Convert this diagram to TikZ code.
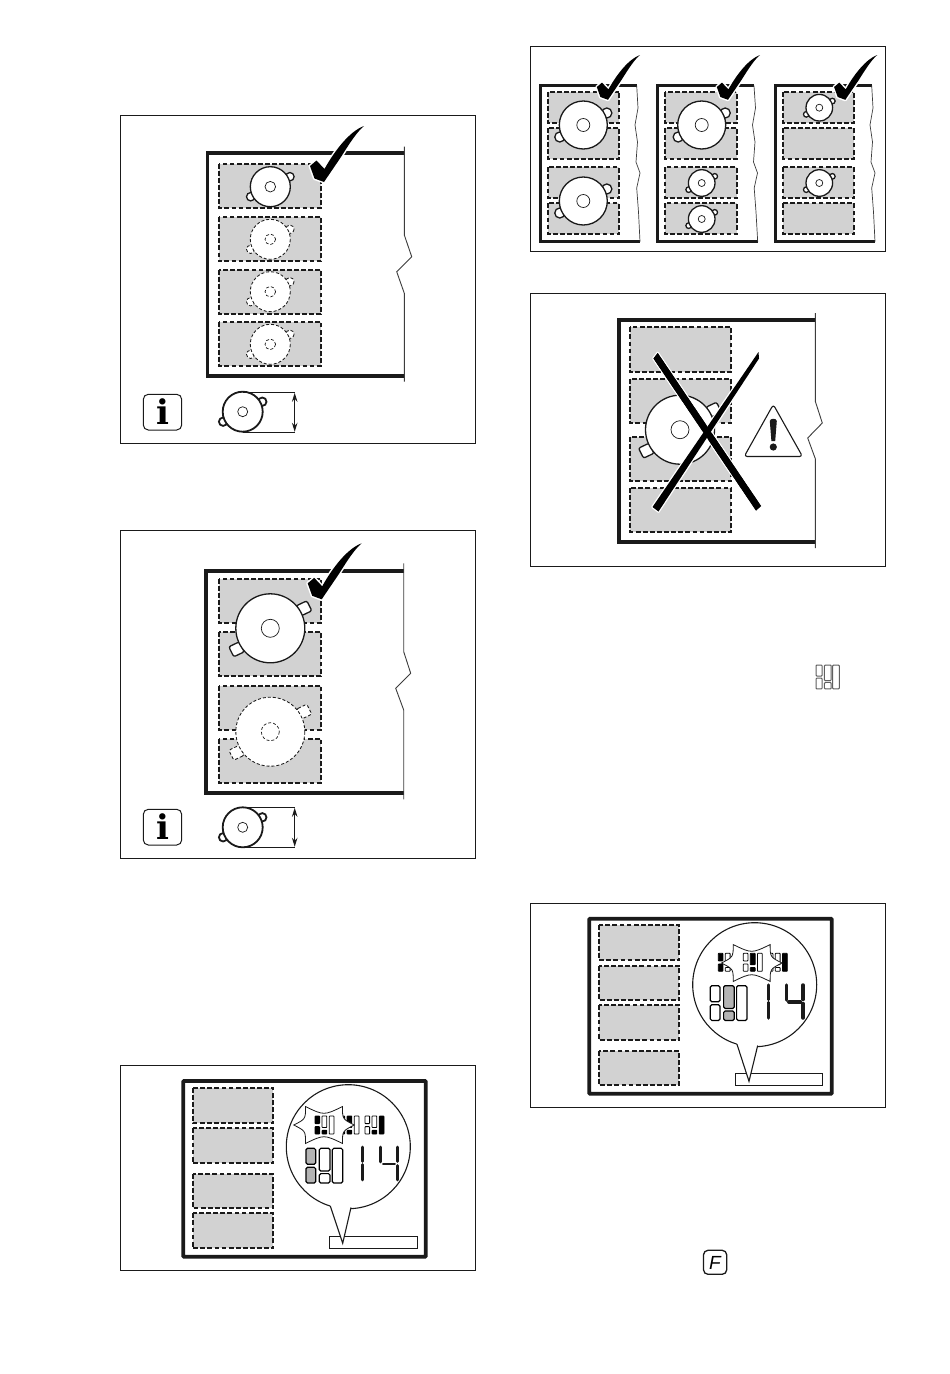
\documentclass[tikz,border=0pt]{standalone}
\usepackage{fontspec}
\usetikzlibrary{arrows.meta}
\newfontfamily\infofont{DejaVu Serif}
\newfontfamily\keyfont{Liberation Sans}
\definecolor{zonegray}{HTML}{D2D2D2}
\definecolor{lcdgray}{HTML}{B4B4B4}
\definecolor{ink}{HTML}{1A1A1A}
\tikzset{
  panelbox/.style={draw=ink,line width=1,fill=white},
  hob/.style={draw=ink,line width=3.8,miter limit=10},
  hobthin/.style={draw=ink,line width=3.4,miter limit=10},
  edgeline/.style={draw=ink!85,line width=0.9},
  zonebox/.style={draw=ink,fill=zonegray,line width=1.8,dash pattern=on 4.8pt off 2.3pt},
  pansolid/.style={draw=ink,fill=white,line width=1.3},
  panghost/.style={draw=ink,fill=white,line width=0.85,dash pattern=on 3pt off 2pt},
  halo/.style={draw=white,line width=3,line join=round},
  thinline/.style={draw=ink,line width=1.1},
  segline/.style={draw=ink,line cap=round},
}
\newcommand{\panel}[4]{\draw[panelbox] (#1,#2) rectangle (#3,#4);}
\newcommand{\zone}[4]{\path[zonebox] (#1,#2) rectangle (#3,#4);}
% pan with round handles: style, cx, cy, R, r
\newcommand{\pan}[5]{%
  \path[#1] ({#2+0.98*#4},{#3-0.5*#4}) circle[radius={0.21*#4}];
  \path[#1] ({#2-0.98*#4},{#3+0.5*#4}) circle[radius={0.21*#4}];
  \path[#1] (#2,#3) circle[radius=#4];
  \path[#1,line width=0.7] (#2,#3) circle[radius=#5];}
% big pan with square handles: style, cx, cy
\newcommand{\bigpan}[3]{%
  \begin{scope}[shift={(#2,#3)}]
  \path[#1,rounded corners=2pt] (26,-22.5) -- (36.5,-27.5) -- (41.5,-17.5) -- (31,-12.5) -- cycle;
  \path[#1,rounded corners=2pt] (-26,23.5) -- (-36.5,28.5) -- (-41.5,18.5) -- (-31,13.5) -- cycle;
  \path[#1] (0,0) circle[radius=34.5];
  \path[#1,line width=0.7] (0,0) circle[radius=9];
  \end{scope}}
\newcommand{\tickpath}{(-54,40) -- (-47.5,34.5) -- (-39.5,43) .. controls (-29,24) and (-14,5) .. (0,0)
     .. controls (-7,6) and (-13,15) .. (-23,31) -- (-40,56) -- (-49.5,52.5) -- cycle}
\newcommand{\tickat}[3]{%
  \begin{scope}[shift={(#1,#2)},scale=#3]
  \path[halo] \tickpath;
  \fill[black] \tickpath;
  \end{scope}}
% large lcd icon: opts, fills LT LB MT MB R
\newcommand{\lcd}[6][]{%
  \begin{scope}[rounded corners=1.5pt,line width=1.2,#1]
  \draw[fill=#2] (0,0) rectangle (9.7,16);
  \draw[fill=#3] (0,19) rectangle (9.7,34.7);
  \draw[fill=#4] (13.3,0) rectangle (24,22.7);
  \draw[fill=#5] (13.3,25.3) rectangle (24,34.7);
  \draw[fill=#6] (26.3,0) rectangle (36.7,34.7);
  \end{scope}}
% small lcd icon: x y, fills LT LB MT MB R
\newcommand{\lcdsmall}[7]{%
  \begin{scope}[shift={(#1,#2)},rounded corners=0.6pt,line width=0.8]
  \draw[fill=#3] (0,0) rectangle (4.6,7.6);
  \draw[fill=#4] (0,10.6) rectangle (4.6,18);
  \draw[fill=#5] (7,0) rectangle (11.8,11.5);
  \draw[fill=#6] (7,14.2) rectangle (11.8,18);
  \draw[fill=#7] (14.2,0) rectangle (19,18);
  \end{scope}}
% burst: cx cy
\newcommand{\burst}[2]{%
  \begin{scope}[shift={(#1,#2)}]
  \draw[fill=white,line width=0.8,draw=ink] (-18.4,-18.4) .. controls (0,-9.5) .. (18.4,-18.4)
   .. controls (18.5,-5.9) .. (30.3,0) .. controls (18.5,5.9) .. (18.4,18.4)
   .. controls (0,9.5) .. (-18.4,18.4) .. controls (-18.5,5.9) .. (-30.3,0)
   .. controls (-18.5,-5.9) .. (-18.4,-18.4) -- cycle;
  \end{scope}}
\newcommand{\fourteen}[3]{%
  \begin{scope}[shift={(#1,#2)}]
  \draw[segline,line width=#3] (0,1) -- (0,15.5);
  \draw[segline,line width=#3] (0,18.5) -- (0,34);
  \draw[segline,line width=#3] (18,1) -- (18,16);
  \draw[segline,line width=#3] (20.5,18) -- (32,18);
  \draw[segline,line width=#3] (34.7,1) -- (34.7,15.5);
  \draw[segline,line width=#3] (34.7,19.5) -- (34.7,34);
  \end{scope}}
% bubble: cx cy, A, tip, B, inner, rect corners
\newcommand{\bubble}[8]{%
  \draw[thinline] (#7) rectangle (#8);
  \draw[thinline,fill=white] (#1,#2) circle[radius=62];
  \fill[white] (#3) -- (#4) -- (#5) -- (#6) -- ++(-21,0) -- cycle;
  \draw[thinline] (#3) -- (#4) -- (#5);}
\begin{document}
\begin{tikzpicture}[x=1pt,y=-1pt]
\useasboundingbox (0,0) rectangle (950,1374);
\fill[white] (0,0) rectangle (950,1374);

% ---------- panel 1
\panel{120.5}{115}{475.5}{443.5}
\draw[hob] (404.3,153) -- (207.5,153) -- (207.5,375.7) -- (404.3,375.7);
\draw[edgeline] (404.3,146.7) -- (404.3,235) -- (411.7,256.7) -- (396.7,271.7) -- (404.3,293.3) -- (404.3,381.7);
\zone{218.7}{163.7}{321}{207.7}
\zone{218.7}{217}{321}{261}
\zone{218.7}{269.7}{321}{314}
\zone{218.7}{321.7}{321}{365.7}
\pan{pansolid}{270.3}{186.7}{20}{5.3}
\pan{panghost}{270.3}{239.3}{20}{5.3}
\pan{panghost}{270.3}{291.7}{20}{5.3}
\pan{panghost}{270.3}{344.3}{20}{5.3}
\tickat{364}{126}{1}
\draw[draw=ink,line width=1,fill=white,rounded corners=5pt] (143.3,394.3) rectangle (181.7,430);
\node[inner sep=0,anchor=base] (info1) at (162.5,424.3) {\infofont\bfseries\fontsize{34}{34}\selectfont i};
\pan{pansolid,line width=1.8}{242.7}{411.7}{20}{5}
\draw[thinline] (242.7,392.3) -- (294.7,392.3);
\draw[thinline] (242.7,432.3) -- (294.7,432.3);
\draw[thinline,{Stealth[length=9pt,width=5.5pt]}-{Stealth[length=9pt,width=5.5pt]}] (294.7,392.8) -- (294.7,431.8);

% ---------- panel 2
\panel{120.5}{530}{475.5}{858.5}
\draw[hob] (403.7,571) -- (206,571) -- (206,792.7) -- (403.7,792.7);
\draw[edgeline] (403.7,563.3) -- (403.7,651.7) -- (410.7,673.3) -- (395.7,688.3) -- (403.7,710) -- (403.7,799.3);
\zone{218.7}{578.7}{321}{622.7}
\zone{218.7}{631.7}{321}{676}
\zone{218.7}{685.7}{321}{729.7}
\zone{218.7}{738.7}{321}{782.7}
\bigpan{pansolid}{270.3}{628.3}
\bigpan{panghost}{270.3}{731.7}
\tickat{361.7}{543.3}{1}
\draw[draw=ink,line width=1,fill=white,rounded corners=5pt] (143.3,809.3) rectangle (181.7,845);
\node[inner sep=0,anchor=base] (info2) at (162.5,839.3) {\infofont\bfseries\fontsize{34}{34}\selectfont i};
\pan{pansolid,line width=1.8}{242.7}{827.3}{20}{5}
\draw[thinline] (242.7,807.3) -- (294.7,807.3);
\draw[thinline] (242.7,847.3) -- (294.7,847.3);
\draw[thinline,{Stealth[length=9pt,width=5.5pt]}-{Stealth[length=9pt,width=5.5pt]}] (294.7,807.8) -- (294.7,846.8);

% ---------- panel 3
\panel{120.5}{1065}{475.5}{1270.5}
\draw[hob,rounded corners=0.8pt] (183.3,1081) rectangle (425.7,1256.7);
\zone{192.7}{1087.7}{273.3}{1123.3}
\zone{192.7}{1128.3}{273.3}{1163.3}
\zone{192.7}{1173.7}{273.3}{1208.3}
\zone{192.7}{1213.3}{273.3}{1248.3}
\bubble{348.3}{1146.7}{330.3,1206}{342.7,1243.3}{351,1207.5}{351,1198}{329.7,1236.7}{417.3,1248.3}
\lcdsmall{340}{1116}{black}{black}{black}{black}{white}
\lcdsmall{365}{1116}{white}{white}{white}{black}{black}
\burst{324}{1125}
\lcdsmall{315}{1116}{black}{black}{white}{black}{white}
\lcd[shift={(306,1148.3)}]{lcdgray}{lcdgray}{white}{white}{white}
\fourteen{362.7}{1146}{2.8}

% ---------- panel 4
\panel{530.5}{46}{885.5}{251.5}
% left
\draw[hobthin] (636.7,85.7) -- (540.7,85.7) -- (540.7,241.7) -- (640,241.7);
\draw[edgeline,line width=0.7] (636.7,85.7) -- (638,108) -- (635,125) -- (637.5,142) -- (636,162) -- (640,173) -- (636.7,188) -- (638.5,212) -- (640,241.7);
\zone{548.3}{91.7}{619.3}{123.3}
\zone{548.3}{127.7}{619.3}{159}
\zone{548.3}{167.3}{619.3}{198.3}
\zone{548.3}{203.3}{619.3}{234.3}
\pan{pansolid}{583.3}{125}{24}{6.5}
\pan{pansolid}{583.3}{201}{24}{6.5}
\tickat{640}{55}{0.8}
% middle
\draw[hobthin] (754,85.7) -- (657.3,85.7) -- (657.3,241.7) -- (757.7,241.7);
\draw[edgeline,line width=0.7] (754,85.7) -- (755.5,108) -- (752.5,125) -- (755,142) -- (753.5,162) -- (757.5,173) -- (754.2,188) -- (756,212) -- (757.7,241.7);
\zone{665.3}{91.7}{736.7}{123.3}
\zone{665.3}{127.7}{736.7}{159}
\zone{665.3}{167.3}{736.7}{198.3}
\zone{665.3}{203.3}{736.7}{234.3}
\pan{pansolid}{701.7}{125}{24}{6.5}
\pan{pansolid}{701.7}{183}{13.3}{3.5}
\pan{pansolid}{701.7}{219}{13.3}{3.5}
\tickat{760}{55}{0.8}
% right
\draw[hobthin] (871.7,85.7) -- (775.7,85.7) -- (775.7,241.7) -- (875,241.7);
\draw[edgeline,line width=0.7] (871.7,85.7) -- (873,108) -- (870,125) -- (872.5,142) -- (871,162) -- (875,173) -- (871.7,188) -- (873.5,212) -- (875,241.7);
\zone{783.3}{91.7}{854}{123.3}
\zone{783.3}{127.7}{854}{159}
\zone{783.3}{167.3}{854}{198.3}
\zone{783.3}{203.3}{854}{234.3}
\pan{pansolid}{819.3}{107.7}{13.3}{3.5}
\pan{pansolid}{819.3}{183}{13.3}{3.5}
\tickat{877.3}{55}{0.8}

% ---------- panel 5
\panel{530.5}{293}{885.5}{566.5}
\draw[hob] (815.3,320) -- (619.3,320) -- (619.3,542) -- (815.3,542);
\draw[edgeline] (815.3,313) -- (815.3,401.3) -- (822.3,423) -- (807.7,438) -- (815.3,458.7) -- (815.3,548);
\zone{630}{327.3}{731}{372}
\zone{630}{378.7}{731}{423}
\zone{630}{436.7}{731}{481}
\zone{630}{487.7}{731}{531.7}
\bigpan{pansolid}{680}{429.7}
\newcommand{\strokeone}{(653.5,358.5) -- (657.7,353) -- (761,506) -- (756,510.5) -- cycle}
\newcommand{\stroketwo}{(758.5,352) -- (759,358.5) -- (658.5,511.5) -- (652.5,507) -- cycle}
\path[halo,line width=2.6] \strokeone;
\fill[black] \strokeone;
\path[halo,line width=2.6] \stroketwo;
\fill[black] \stroketwo;
\fill[black] \strokeone;
\draw[draw=ink,line width=1.1,fill=white,line join=round,rounded corners=3pt] (773.3,404.5) -- (802.5,456.5) -- (744.2,456.5) -- cycle;
\fill[ink] (769.8,421) .. controls (770,418) and (776.6,418) .. (776.8,421) -- (775.2,441) -- (771.4,441) -- cycle;
\fill[ink] (773.3,447) circle[radius=3.6];

% ---------- loose lcd icon
\lcd[shift={(816,665)},xscale=0.635,yscale=0.69,draw=ink!70,line width=1,rounded corners=0.9pt]{white}{white}{white}{white}{white}

% ---------- panel 6
\panel{530.5}{903}{885.5}{1107.5}
\draw[hob,rounded corners=0.8pt] (589.3,918.7) rectangle (831.7,1093.7);
\zone{599}{925}{679.3}{960.3}
\zone{599}{965.7}{679.3}{1000.3}
\zone{599}{1005.3}{679.3}{1040}
\zone{599}{1050.7}{679.3}{1085}
\bubble{754.7}{984.7}{736.9,1044}{749,1081.3}{757.7,1045.5}{757.7,1036}{735.7,1073.7}{822.3,1085.3}
\lcdsmall{718.3}{953.3}{black}{black}{white}{white}{white}
\lcdsmall{768.3}{953.3}{white}{white}{white}{white}{black}
\burst{751.7}{963}
\lcdsmall{743.3}{953.3}{white}{white}{black}{black}{white}
\lcd[shift={(710.3,985.7)}]{white}{white}{lcdgray}{lcdgray}{white}
\fourteen{768.3}{984}{3.5}

% ---------- loose F key
\draw[draw=ink,line width=1.3,fill=white,rounded corners=4.5pt] (703.5,1250.3) rectangle (726.7,1274.3);
\node[inner sep=0,anchor=base] (fkey) at (715,1269) {\keyfont\itshape\fontsize{19}{19}\selectfont F};
\end{tikzpicture}
\end{document}
